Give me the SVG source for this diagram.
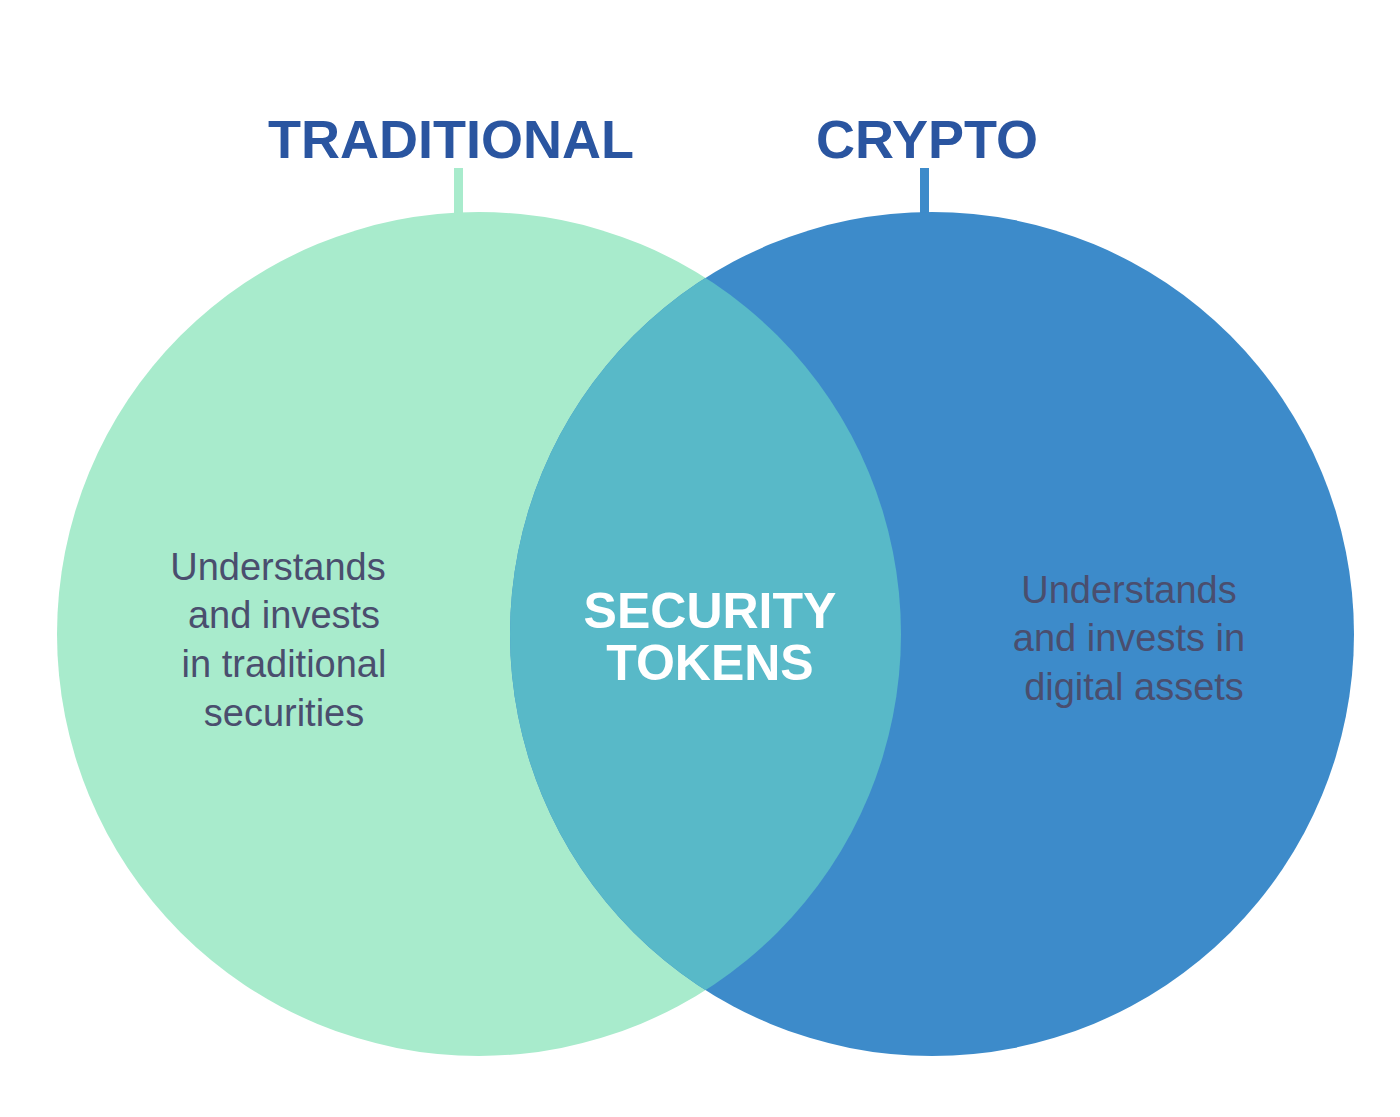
<svg xmlns="http://www.w3.org/2000/svg" width="1400" height="1117" viewBox="0 0 1400 1117">
<style>
.t{font-family:"Liberation Sans",Arial,sans-serif;font-weight:bold;fill:#2a55a0;font-size:54px;text-anchor:middle}
.b{font-family:"Liberation Sans",Arial,sans-serif;fill:#4a4e6e;font-size:38px;text-anchor:middle}
.c{font-family:"Liberation Sans",Arial,sans-serif;font-weight:bold;fill:#fff;font-size:50px;text-anchor:middle}
</style>
<defs><clipPath id="lc"><circle cx="479" cy="634" r="422"/></clipPath></defs>
<rect width="1400" height="1117" fill="#fff"/>
<g id="connectors">
<rect x="454" y="168" width="9" height="46" fill="#a8ebcc"/>
<rect x="920" y="168" width="9" height="46" fill="#3d8bca"/>
</g>
<g id="traditional">
<circle cx="479" cy="634" r="422" fill="#a8ebcc"/>
<text class="t" x="451" y="158">TRADITIONAL</text>
<text class="b" x="278" y="580">Understands</text>
<text class="b" x="284" y="628">and invests</text>
<text class="b" x="284" y="677">in traditional</text>
<text class="b" x="284" y="726">securities</text>
</g>
<g id="crypto">
<circle cx="932" cy="634" r="422" fill="#3d8bca"/>
<text class="t" x="927" y="158">CRYPTO</text>
<text class="b" x="1129" y="603">Understands</text>
<text class="b" x="1129" y="651">and invests in</text>
<text class="b" x="1134" y="700">digital assets</text>
</g>
<g id="security-tokens">
<circle cx="932" cy="634" r="422" fill="#58b9c8" clip-path="url(#lc)"/>
<text class="c" x="710" y="628">SECURITY</text>
<text class="c" x="710" y="680">TOKENS</text>
</g>
</svg>
